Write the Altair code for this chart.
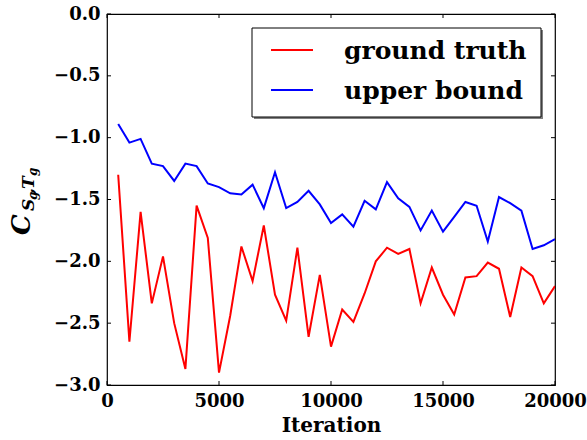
import altair as alt
import pandas as pd

iterations = [500, 1000, 1500, 2000, 2500, 3000, 3500, 4000, 4500, 5000,
              5500, 6000, 6500, 7000, 7500, 8000, 8500, 9000, 9500, 10000,
              10500, 11000, 11500, 12000, 12500, 13000, 13500, 14000, 14500, 15000,
              15500, 16000, 16500, 17000, 17500, 18000, 18500, 19000, 19500, 20000]
ground_truth = [-1.30, -2.65, -1.60, -2.34, -1.96, -2.50, -2.87, -1.55, -1.81, -2.90,
                -2.44, -1.88, -2.16, -1.71, -2.27, -2.48, -1.89, -2.61, -2.11, -2.69,
                -2.39, -2.49, -2.26, -2.00, -1.89, -1.94, -1.90, -2.34, -2.05, -2.27,
                -2.43, -2.13, -2.12, -2.01, -2.06, -2.45, -2.05, -2.12, -2.34, -2.20]
upper_bound = [-0.89, -1.04, -1.01, -1.21, -1.23, -1.35, -1.21, -1.23, -1.37, -1.40,
               -1.45, -1.46, -1.38, -1.57, -1.28, -1.57, -1.52, -1.43, -1.54, -1.69,
               -1.62, -1.72, -1.51, -1.58, -1.36, -1.49, -1.56, -1.75, -1.59, -1.76,
               -1.64, -1.52, -1.55, -1.84, -1.48, -1.53, -1.59, -1.90, -1.87, -1.82]
series_names = ["ground truth", "upper bound"]
series_colors = ["#ff0000", "#0000ff"]
x_ticks = [0, 5000, 10000, 15000, 20000]
y_ticks = [0.0, -0.5, -1.0, -1.5, -2.0, -2.5, -3.0]

W, H = 448, 371
OX, OY = 107, 14
FONT = "DejaVu Serif"

df = pd.DataFrame({
    "Iteration": iterations * 2,
    "value": ground_truth + upper_bound,
    "series": [series_names[0]] * len(iterations) + [series_names[1]] * len(iterations),
})

xscale = alt.Scale(domain=[0, 20000], nice=False, zero=False)
yscale = alt.Scale(domain=[-3.0, 0.0], nice=False, zero=False)
xaxis = alt.Axis(values=x_ticks, format="d", ticks=False, domain=False, grid=False,
                 labelFont=FONT, labelFontSize=18, labelFontWeight="bold",
                 labelColor="black", labelPadding=7, labelFlush=False, labelOverlap=False,
                 title="Iteration", titleFont=FONT, titleFontSize=20,
                 titleFontWeight="bold", titleColor="black", titlePadding=5)
yaxis = alt.Axis(values=y_ticks, ticks=False, domain=False, grid=False,
                 labelExpr="replace(format(datum.value, '.1f'), '-', '\u2212')",
                 labelFont=FONT, labelFontSize=18, labelFontWeight="bold",
                 labelColor="black", labelPadding=7, labelFlush=False, labelOverlap=False,
                 title=None)

lines = alt.Chart(df).mark_line(strokeWidth=2, clip=True).encode(
    x=alt.X("Iteration:Q", scale=xscale, axis=xaxis),
    y=alt.Y("value:Q", scale=yscale, axis=yaxis),
    color=alt.Color("series:N", scale=alt.Scale(domain=series_names, range=series_colors),
                    legend=None),
    detail="series:N",
)

# inward ticks on all four sides
xt = pd.DataFrame({"Iteration": x_ticks})
yt = pd.DataFrame({"value": y_ticks})
tick_style = dict(color="black", strokeWidth=1)
xb = alt.Chart(xt).mark_rule(**tick_style).encode(
    x=alt.X("Iteration:Q", scale=xscale, axis=xaxis), y=alt.value(H), y2=alt.value(H - 4))
xtp = alt.Chart(xt).mark_rule(**tick_style).encode(
    x=alt.X("Iteration:Q", scale=xscale, axis=xaxis), y=alt.value(0), y2=alt.value(4))
yl = alt.Chart(yt).mark_rule(**tick_style).encode(
    y=alt.Y("value:Q", scale=yscale, axis=yaxis), x=alt.value(0), x2=alt.value(4))
yr = alt.Chart(yt).mark_rule(**tick_style).encode(
    y=alt.Y("value:Q", scale=yscale, axis=yaxis), x=alt.value(W), x2=alt.value(W - 4))

one = pd.DataFrame({"a": [0]})

# legend box with shadow
lx0, ly0, lx1, ly1 = 252, 28, 541, 117
shadow = alt.Chart(one).mark_rect(fill="#808080").encode(
    x=alt.value(lx0 - OX + 2), x2=alt.value(lx1 - OX + 2),
    y=alt.value(ly0 - OY + 2), y2=alt.value(ly1 - OY + 2))
box = alt.Chart(one).mark_rect(fill="white", stroke="black", strokeWidth=1).encode(
    x=alt.value(lx0 - OX), x2=alt.value(lx1 - OX),
    y=alt.value(ly0 - OY), y2=alt.value(ly1 - OY))
legend_layers = [shadow, box]
for name, col, cy in zip(series_names, series_colors, [50, 90]):
    legend_layers.append(
        alt.Chart(one).mark_rule(color=col, strokeWidth=2).encode(
            x=alt.value(271 - OX), x2=alt.value(313 - OX), y=alt.value(cy - OY)))
    legend_layers.append(
        alt.Chart(one).mark_text(text=name, font=FONT, fontSize=25, fontWeight="bold",
                                 align="left", baseline="alphabetic", color="black").encode(
            x=alt.value(344 - OX), y=alt.value(cy + 9 - OY)))

# y-axis title pieces: C_{S_g,T_g}
title_parts = [
    ("C", 26, 30, 235),
    ("S", 17, 34, 211),
    ("g", 12, 37, 200),
    (",", 17, 34, 194),
    ("T", 17, 34, 189),
    ("g", 12, 37, 176),
]
title_layers = []
for txt, size, px, py in title_parts:
    title_layers.append(
        alt.Chart(one).mark_text(
            text=txt, font=FONT, fontSize=size, fontWeight="bold", fontStyle="italic",
            angle=270, align="left", baseline="alphabetic", color="black"
        ).encode(x=alt.value(px - OX), y=alt.value(py - OY))
    )

chart = alt.layer(lines, xb, xtp, yl, yr, *legend_layers, *title_layers).properties(
    width=W, height=H,
    autosize=alt.AutoSizeParams(type="none"),
    padding={"left": OX, "top": OY, "right": 587 - OX - W, "bottom": 440 - OY - H},
    background="white",
).configure_view(stroke="black", strokeWidth=1.2)

chart.save("out.html", embed_options={"renderer": "svg", "actions": False})
